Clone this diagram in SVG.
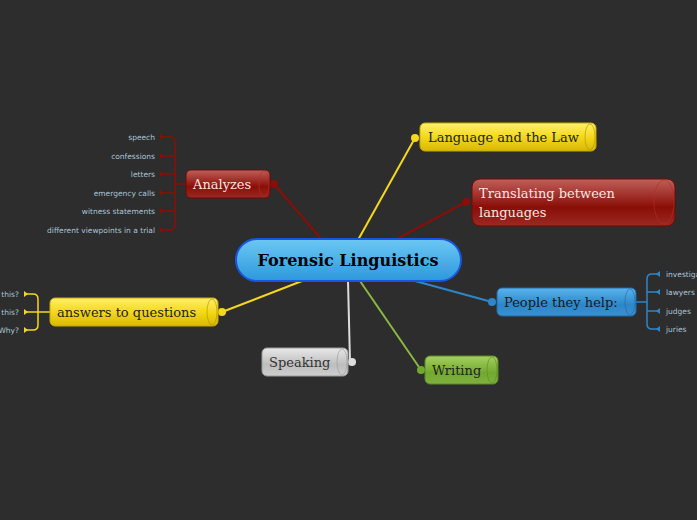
<svg xmlns="http://www.w3.org/2000/svg" width="697" height="520" viewBox="0 0 697 520">
<style>
.t{font-family:"DejaVu Serif","Liberation Serif",serif;font-size:13px}
.leaf{font-family:"DejaVu Sans","Liberation Sans",sans-serif;font-size:7.5px;fill:#a9c4d6}
.cap{fill:none;stroke-opacity:0.6}
</style>
<defs>
<linearGradient id="gy" x1="0" y1="0" x2="0" y2="1"><stop offset="0" stop-color="#fff06a"/><stop offset="0.5" stop-color="#f4d81c"/><stop offset="1" stop-color="#d8b800"/></linearGradient>
<linearGradient id="gr" x1="0" y1="0" x2="0" y2="1"><stop offset="0" stop-color="#c0605a"/><stop offset="0.6" stop-color="#8a0e08"/><stop offset="1" stop-color="#9a2a22"/></linearGradient>
<linearGradient id="gb" x1="0" y1="0" x2="0" y2="1"><stop offset="0" stop-color="#5ab4ec"/><stop offset="0.6" stop-color="#2d86c8"/><stop offset="1" stop-color="#3a90d0"/></linearGradient>
<linearGradient id="gc" x1="0" y1="0" x2="0" y2="1"><stop offset="0" stop-color="#6cc8f4"/><stop offset="1" stop-color="#2c98dc"/></linearGradient>
<linearGradient id="gg" x1="0" y1="0" x2="0" y2="1"><stop offset="0" stop-color="#e8e8e8"/><stop offset="0.6" stop-color="#bdbdbd"/><stop offset="1" stop-color="#cfcfcf"/></linearGradient>
<linearGradient id="gn" x1="0" y1="0" x2="0" y2="1"><stop offset="0" stop-color="#a6d060"/><stop offset="0.6" stop-color="#72a830"/><stop offset="1" stop-color="#80b040"/></linearGradient>
</defs>
<rect width="697" height="520" fill="#2d2d2d"/>
<g id="connectors" fill="none" stroke-width="2">
<path d="M358,240 L415,138" stroke="#f4d81c"/>
<path d="M395,240 L466,202" stroke="#8a0e08"/>
<path d="M322,240 L274,184" stroke="#8a0e08"/>
<path d="M302,281 L222,312" stroke="#f4d81c"/>
<path d="M415,281 L492,302" stroke="#2d86c8"/>
<path d="M348,281 L350,362" stroke="#ddd"/>
<path d="M360,281 L421,370" stroke="#8ab840"/>
<g stroke-width="1.5">
<path d="M186,184 H175 M162,137 H170 Q175,137 175,142 V225 Q175,230 170,230 H162 M162,156 H175 M162,174 H175 M162,193 H175 M162,211 H175" stroke="#8a0e08"/>
<path d="M50,312 H38 M26,294 H33 Q38,294 38,299 V325 Q38,330 33,330 H26 M26,312 H38" stroke="#f4d81c"/>
<path d="M636,302 H647 M658,274 H652 Q647,274 647,279 V324 Q647,329 652,329 H658 M658,292 H647 M658,311 H647" stroke="#2d86c8"/>
</g>
<g stroke="none">
<circle cx="415" cy="138" r="4" fill="#f4d81c"/>
<circle cx="466" cy="202" r="4" fill="#8a0e08"/>
<circle cx="274" cy="184" r="4" fill="#8a0e08"/>
<circle cx="222" cy="312" r="4" fill="#f4d81c"/>
<circle cx="492" cy="302" r="4" fill="#2d86c8"/>
<circle cx="352" cy="362" r="4" fill="#ddd"/>
<circle cx="421" cy="370" r="4" fill="#72a830"/>
<g fill="#8a0e08"><path d="M160,134 L164,137 L160,140Z"/><path d="M160,153 L164,156 L160,159Z"/><path d="M160,171 L164,174 L160,177Z"/><path d="M160,190 L164,193 L160,196Z"/><path d="M160,208 L164,211 L160,214Z"/><path d="M160,227 L164,230 L160,233Z"/></g>
<g fill="#f4d81c"><path d="M24,291 L28,294 L24,297Z"/><path d="M24,309 L28,312 L24,315Z"/><path d="M24,327 L28,330 L24,333Z"/></g>
<g fill="#2d86c8"><path d="M660,271 L656,274 L660,277Z"/><path d="M660,289 L656,292 L660,295Z"/><path d="M660,308 L656,311 L660,314Z"/><path d="M660,326 L656,329 L660,332Z"/></g>
</g>
</g>
<g id="central">
<rect x="236" y="239" width="225" height="42" rx="21" fill="url(#gc)" stroke="#1a55e0" stroke-width="2"/>
<text x="348" y="266" text-anchor="middle" class="t" style="font-size:16px;font-weight:bold" fill="#000">Forensic Linguistics</text>
</g>
<g id="n-law">
<rect x="420" y="123" width="176" height="28" rx="5" fill="url(#gy)" stroke="#c8a800"/>
<ellipse cx="590" cy="137" rx="5" ry="13" class="cap" stroke="#b09000"/>
<text x="428" y="142" class="t" fill="#222">Language and the Law</text>
</g>
<g id="n-translate">
<rect x="472" y="179" width="203" height="47" rx="8" fill="url(#gr)" stroke="#6e0a06"/>
<ellipse cx="664" cy="202" rx="10" ry="22" class="cap" stroke="#b03028"/>
<text class="t" fill="#f4e6e4"><tspan x="479" y="198">Translating between</tspan><tspan x="479" y="217">languages</tspan></text>
</g>
<g id="n-analyzes">
<rect x="186" y="170" width="84" height="28" rx="5" fill="url(#gr)" stroke="#6e0a06"/>
<ellipse cx="264" cy="184" rx="5" ry="13" class="cap" stroke="#b03028"/>
<text x="193" y="189" class="t" fill="#f4e6e4">Analyzes</text>
<g class="leaf" text-anchor="end">
<text x="155" y="140">speech</text>
<text x="155" y="159">confessions</text>
<text x="155" y="177">letters</text>
<text x="155" y="196">emergency calls</text>
<text x="155" y="214">witness statements</text>
<text x="155" y="233">different viewpoints in a trial</text>
</g>
</g>
<g id="n-answers">
<rect x="50" y="298" width="168" height="28" rx="5" fill="url(#gy)" stroke="#c8a800"/>
<ellipse cx="212" cy="312" rx="5" ry="13" class="cap" stroke="#b09000"/>
<text x="57" y="317" class="t" fill="#222">answers to questions</text>
<g class="leaf" text-anchor="end">
<text x="19" y="297">this?</text>
<text x="19" y="315">this?</text>
<text x="19" y="333">Why?</text>
</g>
</g>
<g id="n-people">
<rect x="497" y="288" width="139" height="28" rx="5" fill="url(#gb)" stroke="#1e6aa8"/>
<ellipse cx="630" cy="302" rx="5" ry="13" class="cap" stroke="#1e6aa8"/>
<text x="504" y="307" class="t" fill="#1a1a1a">People they help:</text>
<g class="leaf">
<text x="666" y="277">investigators</text>
<text x="666" y="295">lawyers</text>
<text x="666" y="314">judges</text>
<text x="666" y="332">juries</text>
</g>
</g>
<g id="n-speaking">
<rect x="262" y="348" width="86" height="28" rx="5" fill="url(#gg)" stroke="#999"/>
<ellipse cx="342" cy="362" rx="5" ry="13" class="cap" stroke="#999"/>
<text x="269" y="367" class="t" fill="#333">Speaking</text>
</g>
<g id="n-writing">
<rect x="425" y="356" width="73" height="28" rx="5" fill="url(#gn)" stroke="#5a8a20"/>
<ellipse cx="492" cy="370" rx="5" ry="13" class="cap" stroke="#5a8a20"/>
<text x="432" y="375" class="t" fill="#222">Writing</text>
</g>
</svg>
